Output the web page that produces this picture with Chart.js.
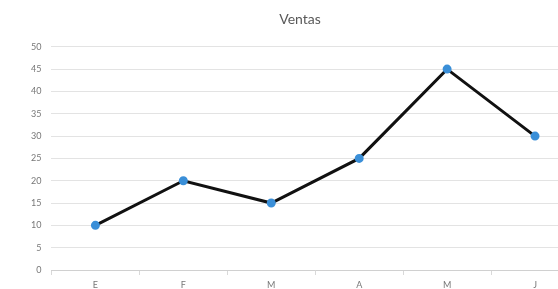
<!DOCTYPE html>
<html>
<head>
<meta charset="utf-8">
<script src="https://cdn.jsdelivr.net/npm/chart.js@4"></script>
<style>
  html, body { margin: 0; padding: 0; background: #fff; overflow: hidden; }
  #wrap { width: 558px; height: 289px; overflow: hidden; }
</style>
</head>
<body>
<div id="wrap"><canvas id="lineChart" width="612" height="298"></canvas></div>
<script>
const months = ["E", "F", "M", "A", "M", "J"];
const ventas = [10, 20, 15, 25, 45, 30];
const yMin = 0;
const yMax = 50;
const yStep = 5;

const ctx = document.getElementById("lineChart");
new Chart(ctx, {
  type: "line",
  data: {
    labels: months,
    datasets: [
      {
        label: "Ventas",
        data: ventas,
        borderColor: "#111111",
        borderWidth: 3,
        pointBackgroundColor: "#3a8fd8",
        pointBorderColor: "#3a8fd8",
        pointRadius: 3,
        tension: 0,
      },
    ],
  },
  options: {
    responsive: false,
    animation: false,
    layout: { padding: { left: 21, right: 33, top: 0, bottom: 0 } },
    plugins: {
      legend: { display: false },
      tooltip: { enabled: false },
      title: {
        display: true,
        text: "Ventas",
        color: "#595959",
        font: { family: "Lato", size: 14, weight: "normal" },
        padding: { top: 11, bottom: 19 },
      },
    },
    scales: {
      x: {
        offset: true,
        afterFit: (scale) => {
          scale.height = 28;
        },
        grid: {
          offset: true,
          drawOnChartArea: false,
          drawTicks: true,
          tickLength: 5,
          color: "#d9d9d9",
        },
        border: { display: true, color: "#d0d0d0" },
        ticks: {
          color: "#777777",
          font: { family: "Lato", size: 9 },
          padding: 5,
        },
      },
      y: {
        min: yMin,
        max: yMax,
        ticks: {
          stepSize: yStep,
          color: "#777777",
          font: { family: "Lato", size: 9 },
          padding: 10,
        },
        grid: { color: "#e3e3e3", drawTicks: false },
        border: { display: false },
      },
    },
  },
});
</script>
</body>
</html>
